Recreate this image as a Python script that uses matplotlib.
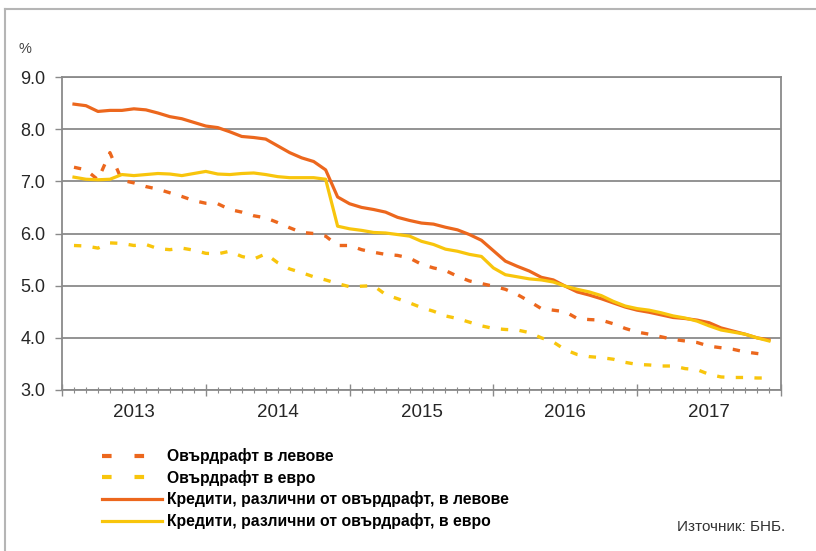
import numpy as np
import matplotlib
matplotlib.use("Agg")
import matplotlib.pyplot as plt
from matplotlib.lines import Line2D
from matplotlib.transforms import blended_transform_factory

plt.rcParams['font.family'] = ['Liberation Sans', 'DejaVu Sans']

# monthly data, Jan 2013 - Nov 2017 (%)
overdraft_bgn = [7.27, 7.22, 7.03, 7.55, 7.02, 6.97, 6.90, 6.85, 6.78, 6.71, 6.63, 6.58,
                 6.57, 6.46, 6.41, 6.34, 6.30, 6.21, 6.11, 6.02, 6.00, 5.95, 5.77, 5.77,
                 5.69, 5.64, 5.60, 5.58, 5.53, 5.41, 5.34, 5.29, 5.18, 5.09, 5.04, 4.99,
                 4.93, 4.83, 4.70, 4.56, 4.53, 4.50, 4.37, 4.35, 4.34, 4.27, 4.18, 4.11,
                 4.07, 4.02, 3.97, 3.94, 3.91, 3.84, 3.81, 3.78, 3.73, 3.70, 3.67]
overdraft_eur = [5.77, 5.76, 5.72, 5.82, 5.81, 5.77, 5.79, 5.71, 5.69, 5.72, 5.68, 5.62,
                 5.61, 5.66, 5.56, 5.51, 5.61, 5.44, 5.32, 5.25, 5.17, 5.11, 5.04, 4.98,
                 4.99, 5.00, 4.83, 4.75, 4.67, 4.58, 4.51, 4.42, 4.37, 4.30, 4.23, 4.18,
                 4.16, 4.15, 4.10, 4.00, 3.92, 3.77, 3.68, 3.64, 3.62, 3.59, 3.53, 3.49,
                 3.48, 3.46, 3.46, 3.41, 3.39, 3.30, 3.25, 3.24, 3.24, 3.23, 3.23]
loans_bgn = [8.48, 8.45, 8.34, 8.36, 8.36, 8.39, 8.37, 8.31, 8.24, 8.20, 8.13, 8.06,
             8.03, 7.95, 7.86, 7.84, 7.81, 7.68, 7.55, 7.45, 7.38, 7.22, 6.70, 6.57,
             6.50, 6.46, 6.41, 6.31, 6.25, 6.20, 6.18, 6.12, 6.07, 5.98, 5.87, 5.67,
             5.47, 5.37, 5.28, 5.16, 5.11, 4.99, 4.88, 4.82, 4.75, 4.67, 4.59, 4.53,
             4.49, 4.44, 4.39, 4.37, 4.34, 4.29, 4.19, 4.13, 4.07, 4.00, 3.96]
loans_eur = [7.08, 7.04, 7.03, 7.04, 7.13, 7.11, 7.13, 7.15, 7.14, 7.11, 7.15, 7.19,
             7.14, 7.13, 7.15, 7.16, 7.13, 7.09, 7.07, 7.07, 7.07, 7.04, 6.14, 6.09,
             6.06, 6.02, 6.01, 5.98, 5.95, 5.85, 5.79, 5.70, 5.66, 5.60, 5.56, 5.34,
             5.21, 5.17, 5.13, 5.11, 5.07, 4.99, 4.93, 4.88, 4.81, 4.70, 4.61, 4.56,
             4.53, 4.48, 4.42, 4.38, 4.32, 4.23, 4.15, 4.11, 4.07, 4.00, 3.94]
years = ['2013', '2014', '2015', '2016', '2017']
labels = ['Овърдрафт в левове', 'Овърдрафт в евро',
          'Кредити, различни от овърдрафт, в левове',
          'Кредити, различни от овърдрафт, в евро']

orange = '#EC671D'
yellow = '#F8C50C'
grid_c = '#8a8a8a'

fig = plt.figure(figsize=(8.16, 5.51), dpi=100)
ax = fig.add_axes([62/816, 1-390/551, (781-62)/816, (390-77)/551])

x = np.arange(1, len(loans_bgn) + 1)  # month-end positions
dash = (2.2, 3.4)
l1, = ax.plot(x, overdraft_bgn, color=orange, lw=2.4, dashes=dash)
l2, = ax.plot(x, overdraft_eur, color=yellow, lw=2.4, dashes=dash)
l3, = ax.plot(x, loans_bgn, color=orange, lw=2.3)
l4, = ax.plot(x, loans_eur, color=yellow, lw=2.3)

ax.set_xlim(0, 60)
ax.set_ylim(3, 9)
ax.set_yticks(np.arange(3, 9.1, 1))
ax.set_yticklabels([f'{v:.1f}' for v in np.arange(3, 9.1, 1)])
ax.yaxis.grid(True, color=grid_c, lw=1.3)
ax.set_axisbelow(True)
ax.set_xticks(np.arange(0, 61, 12))
ax.set_xticks(np.arange(0, 61, 1), minor=True)
ax.set_xticklabels([])
ax.tick_params(axis='x', which='major', direction='inout', length=9, width=1, color=grid_c)
ax.tick_params(axis='x', which='minor', direction='inout', length=4, width=0.8, color=grid_c)
ax.tick_params(axis='y', direction='out', length=5, width=1, color=grid_c,
               labelsize=13, labelcolor='#262626', pad=7)
for s in ['left', 'right', 'bottom', 'top']:
    ax.spines[s].set_color(grid_c)
    ax.spines[s].set_linewidth(1.3)

tr = blended_transform_factory(ax.transData, ax.transAxes)
for i, yr in enumerate(years):
    ax.text(i*12 + 6, -0.072, yr, transform=tr, ha='center', va='center',
            fontsize=13.5, color='#262626')

fig.text(25/816, 1-49/551, '%', ha='center', va='center', fontsize=10.5, color='#444444')

h1 = Line2D([], [], color=orange, lw=3, dashes=(2.3, 5.5))
h2 = Line2D([], [], color=yellow, lw=3, dashes=(2.3, 5.5))
fig.legend([h1, h2, l3, l4], labels, loc='upper left',
           bbox_to_anchor=(88/816, 1-434/551), frameon=False,
           handlelength=3.8, handletextpad=0.35, labelspacing=0.36,
           prop={'weight': 'bold', 'size': 11.3})

fig.text(785/816, 1-527/551, 'Източник: БНБ.', ha='right', va='center',
         fontsize=11, color='#333333')

# outer frame
fig.add_artist(Line2D([5/816, 1], [1-9/551, 1-9/551], color='#b5b5b5', lw=1.5))
fig.add_artist(Line2D([5/816, 5/816], [0, 1-9/551], color='#b5b5b5', lw=1.5))

fig.savefig('out.png', dpi=100)
